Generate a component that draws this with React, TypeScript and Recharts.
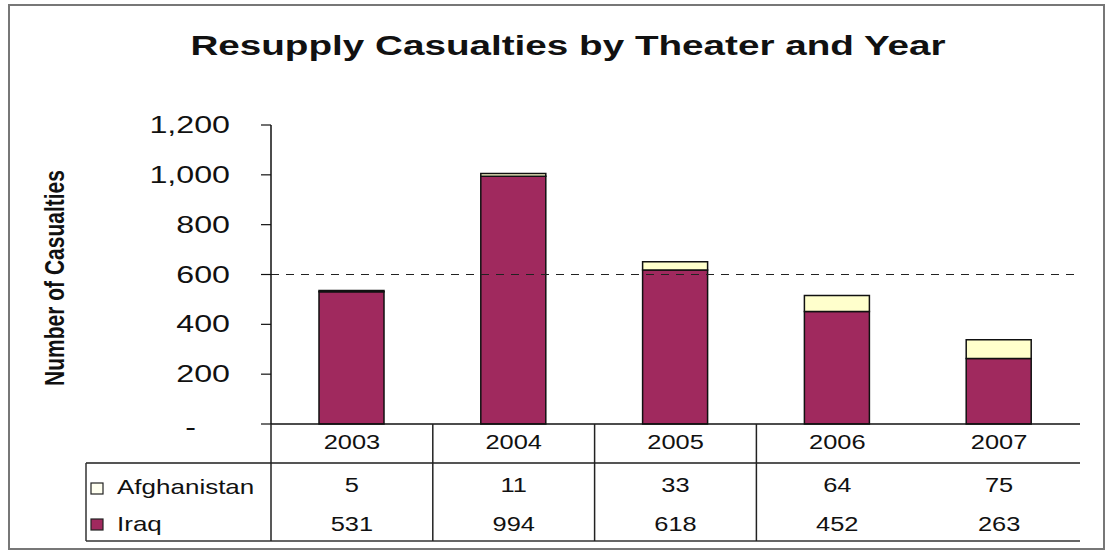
import { BarChart, Bar, XAxis, YAxis, ReferenceLine } from "recharts";

const years = ["2003", "2004", "2005", "2006", "2007"];
const afghanistan = [5, 11, 33, 64, 75];
const iraq = [531, 994, 618, 452, 263];
const yTicks = [0, 200, 400, 600, 800, 1000, 1200];
const threshold = 600;

const data = years.map((year, i) => ({
  year,
  iraq: iraq[i],
  afghanistan: afghanistan[i],
}));

const W = 1114;
const H = 556;
const PLOT_LEFT = 271;
const PLOT_RIGHT = 1080;
const CELL_W = (PLOT_RIGHT - PLOT_LEFT) / years.length;
const TABLE_LEFT = 86;
const ROW_SPLIT = 39;
const ROW_END = 117;

const IRAQ_COLOR = "#a0295e";
const AFGH_COLOR = "#ffffcc";
const FONT = "'Liberation Sans', Arial, sans-serif";

// the source image is stretched sideways, so text gets a scaleX
const stretchText = (x: number, y: number, sx: number) =>
  `translate(${x},${y}) scale(${sx},1)`;

function TableColumn(props: any) {
  const { x, y, payload, index } = props;
  const left = x - CELL_W / 2;
  const cell = (ty: number, s: string | number) => (
    <text
      transform={stretchText(x, ty, 1.27)}
      textAnchor="middle"
      fontSize={20}
      fill="#111"
      fontFamily={FONT}
    >
      {s}
    </text>
  );

  return (
    <g>
      {index === 0 && (
        <g>
          <line x1={TABLE_LEFT} x2={PLOT_RIGHT} y1={y + ROW_SPLIT} y2={y + ROW_SPLIT} stroke="#555" strokeWidth={2} />
          <line x1={TABLE_LEFT} x2={PLOT_RIGHT} y1={y + ROW_END} y2={y + ROW_END} stroke="#333" strokeWidth={1.5} />
          <line x1={TABLE_LEFT} x2={TABLE_LEFT} y1={y + ROW_SPLIT} y2={y + ROW_END} stroke="#333" strokeWidth={1.5} />
          <rect x={91} y={y + 59} width={12} height={11} fill="#fffff0" stroke="#222" strokeWidth={1.2} />
          <text transform={stretchText(117, y + 70, 1.3)} fontSize={20} fill="#111" fontFamily={FONT}>
            Afghanistan
          </text>
          <rect x={91} y={y + 95} width={12} height={11} fill={IRAQ_COLOR} stroke="#222" strokeWidth={1.2} />
          <text transform={stretchText(117, y + 107, 1.3)} fontSize={20} fill="#111" fontFamily={FONT}>
            Iraq
          </text>
        </g>
      )}
      {/* the original table has no divider before the last column */}
      {index < years.length - 1 && (
        <line x1={left} x2={left} y1={y} y2={y + ROW_END} stroke="#222" strokeWidth={1.5} />
      )}
      {cell(y + 25, payload.value)}
      {cell(y + 68, afghanistan[index])}
      {cell(y + 107, iraq[index])}
    </g>
  );
}

function YTick(props: any) {
  const { x, y, payload } = props;
  const v = payload.value as number;
  const zero = v === 0;
  return (
    <text
      transform={stretchText(zero ? x - 34 : x, zero ? y + 3 : y, 1.4)}
      textAnchor="end"
      dy="0.35em"
      fontSize={23}
      fill="#111"
      fontFamily={FONT}
    >
      {zero ? "-" : v.toLocaleString("en-US")}
    </text>
  );
}

function YTitle() {
  return (
    <text
      transform="translate(54,278) scale(1.35,1) rotate(-90)"
      textAnchor="middle"
      dy="0.35em"
      fontSize={21}
      fontWeight="bold"
      fill="#111"
      fontFamily={FONT}
    >
      Number of Casualties
    </text>
  );
}

export default function App() {
  return (
    <div style={{ position: "absolute", left: 0, top: 0, width: W, height: H, background: "#fff" }}>
      <div
        style={{
          position: "absolute",
          left: 8,
          top: 4,
          width: 1097,
          height: 546,
          border: "2px solid #777",
          boxSizing: "border-box",
        }}
      />
      <div
        style={{
          position: "absolute",
          left: 0,
          top: 32,
          width: 1136,
          textAlign: "center",
          fontFamily: FONT,
          fontWeight: "bold",
          fontSize: 28,
          lineHeight: "28px",
          color: "#111",
          transform: "scaleX(1.38)",
          transformOrigin: "568px 0",
        }}
      >
        Resupply Casualties by Theater and Year
      </div>
      <div style={{ position: "absolute", left: 0, top: 0 }}>
        <BarChart
          width={W}
          height={H}
          data={data}
          margin={{ top: 125, right: W - PLOT_RIGHT, left: 8, bottom: 12 }}
        >
          <XAxis
            dataKey="year"
            height={120}
            interval={0}
            tickSize={0}
            tickMargin={0}
            tickLine={false}
            axisLine={{ stroke: "#111", strokeWidth: 1.5 }}
            tick={<TableColumn />}
          />
          <XAxis
            xAxisId="top"
            dataKey="year"
            orientation="top"
            height={0}
            tick={false}
            tickLine={false}
            axisLine={{ stroke: "#888", strokeWidth: 1.5 }}
          />
          <YAxis
            width={PLOT_LEFT - 8}
            domain={[0, 1200]}
            ticks={yTicks}
            interval={0}
            tickSize={10}
            tickMargin={31}
            axisLine={{ stroke: "#111", strokeWidth: 1.5 }}
            tickLine={{ stroke: "#111", strokeWidth: 1.2 }}
            tick={<YTick />}
            label={<YTitle />}
          />
          <YAxis
            yAxisId="right"
            orientation="right"
            width={0}
            tick={false}
            tickLine={false}
            axisLine={{ stroke: "#888", strokeWidth: 1.5 }}
          />
          <Bar
            dataKey="iraq"
            name="Iraq"
            stackId="theater"
            fill={IRAQ_COLOR}
            stroke="#111"
            strokeWidth={1.5}
            barSize={65}
            isAnimationActive={false}
          />
          <Bar
            dataKey="afghanistan"
            name="Afghanistan"
            stackId="theater"
            fill={AFGH_COLOR}
            stroke="#111"
            strokeWidth={1.5}
            barSize={65}
            isAnimationActive={false}
          />
          <ReferenceLine y={threshold} stroke="#222" strokeWidth={1} strokeDasharray="8 7" />
        </BarChart>
      </div>
    </div>
  );
}
